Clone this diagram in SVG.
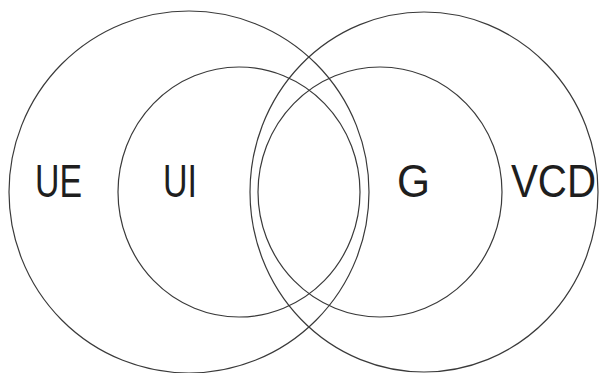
<svg xmlns="http://www.w3.org/2000/svg" width="605" height="373" viewBox="0 0 605 373">
<style>
.c{fill:none;stroke:#3a3a3a;stroke-width:1.2}
.t{font-family:"Liberation Sans",Arial,sans-serif;font-size:47px;fill:#1e1e1e}
.n{font-size:42px}
</style>
<rect width="605" height="373" fill="#fff"/>
<g id="UE"><ellipse class="c" cx="189" cy="192" rx="180" ry="181"/><text class="t" x="35" y="197" textLength="47" lengthAdjust="spacingAndGlyphs">UE</text></g>
<g id="VCD"><ellipse class="c" cx="424" cy="192" rx="174" ry="180"/><text class="t n" transform="translate(511 197) scale(1 1.12)" x="0" y="0" textLength="85" lengthAdjust="spacingAndGlyphs">VCD</text></g>
<g id="UI"><ellipse class="c" cx="239" cy="192" rx="121" ry="125"/><text class="t" x="163" y="197" textLength="34" lengthAdjust="spacingAndGlyphs">UI</text></g>
<g id="G"><ellipse class="c" cx="380" cy="192" rx="122" ry="125"/><text class="t" x="397" y="197" textLength="33" lengthAdjust="spacingAndGlyphs">G</text></g>
</svg>
